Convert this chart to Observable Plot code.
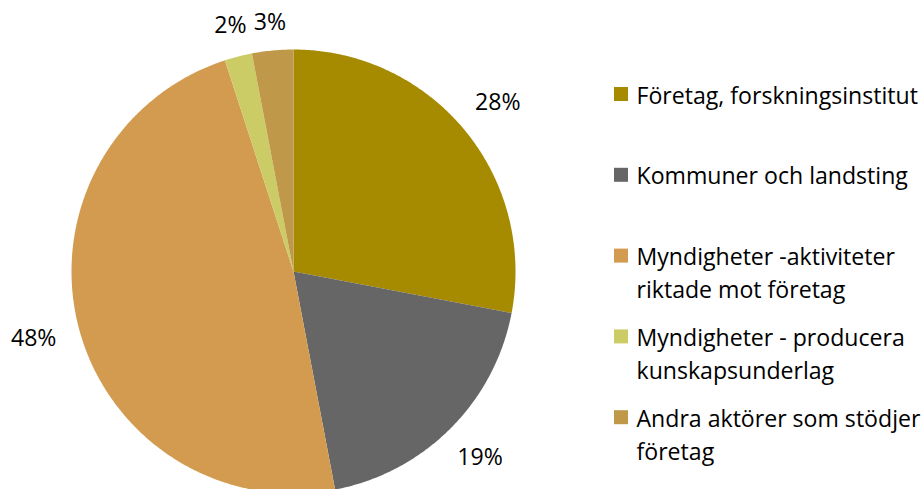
<!DOCTYPE html>
<html><head><meta charset="utf-8">
<script src="https://cdn.jsdelivr.net/npm/d3@7"></script>
<script src="https://cdn.jsdelivr.net/npm/@observablehq/plot@0.6"></script>
<style>html,body{margin:0;padding:0;background:#fff;overflow:hidden}</style>
</head><body><div id="chart"></div>
<script>
const categories = ["Företag, forskningsinstitut","Kommuner och landsting","Myndigheter -aktiviteter\nriktade mot företag","Myndigheter - producera\nkunskapsunderlag","Andra aktörer som stödjer\nföretag"];
const values = [28, 19, 48, 2, 3];
const valueLabels = ["28%","19%","48%","2%","3%"];
const colors = ["#A68A00","#666666","#D39B4F","#CCCC66","#C0984A"];

const W = 923, H = 489, CX = 293, CY = 271, R = 222;
const FONT = "Open Sans";
const cv = document.createElement("canvas").getContext("2d");
cv.font = `100px "${FONT}"`;
const fs = Math.round(282 / cv.measureText("Företag, forskningsinstitut").width * 100 * 10) / 10;

const total = d3.sum(values);
const slices = [];
let acc = 0;
values.forEach((v, i) => {
  const a0 = acc / total * 2 * Math.PI, a1 = (acc + v) / total * 2 * Math.PI;
  acc += v;
  const n = Math.max(2, Math.ceil((a1 - a0) / (Math.PI / 360)));
  slices.push({k: i, x: 0, y: 0, cat: categories[i]});
  for (let j = 0; j <= n; j++) {
    const a = a0 + (a1 - a0) * j / n;
    slices.push({k: i, x: R * Math.sin(a), y: -R * Math.cos(a), cat: categories[i]});
  }
  slices.push({k: i, x: 0, y: 0, cat: categories[i]});
});

// data labels (outside end, offset by half text box)
acc = 0;
const labels = values.map((v, i) => {
  const a = (acc + v / 2) / total * 2 * Math.PI; acc += v;
  const s = Math.abs(Math.sin(a)), c = Math.abs(Math.cos(a));
  const rr = R + 22 + 24 * s + 4 * c;
  return {x: rr * Math.sin(a), y: -rr * Math.cos(a), t: valueLabels[i]};
});

// legend
const legend = categories.map((c, i) => ({
  x: 614 - CX, y: 94 + i * 80.8 - CY, t: c, k: i
}));

const plot = Plot.plot({
  width: W, height: H,
  margin: 0,
  x: {domain: [-CX, W - CX], range: [0, W], axis: null},
  y: {domain: [-CY, H - CY], range: [0, H], axis: null},
  color: {domain: d3.range(categories.length), range: colors},
  style: {fontFamily: FONT, fontSize: fs + "px", background: "#fff", overflow: "hidden"},
  marks: [
    Plot.line(slices, {x: "x", y: "y", z: "k", fill: d => d.k, stroke: "none", curve: "linear"}),
    Plot.text(labels, {x: "x", y: "y", text: "t", fill: "#000", fontSize: fs, textAnchor: "middle", lineAnchor: "middle"}),
    Plot.rect(legend, {x1: "x", x2: d => d.x + 14, y1: d => d.y - 7, y2: d => d.y + 7, fill: d => d.k}),
    Plot.text(legend, {x: d => d.x + 22, y: "y", text: "t", fill: "#000", fontSize: fs, textAnchor: "start", lineAnchor: "top", dy: -0.62 * fs, lineHeight: 33 / fs})
  ]
});
document.getElementById("chart").appendChild(plot);
</script></body></html>
